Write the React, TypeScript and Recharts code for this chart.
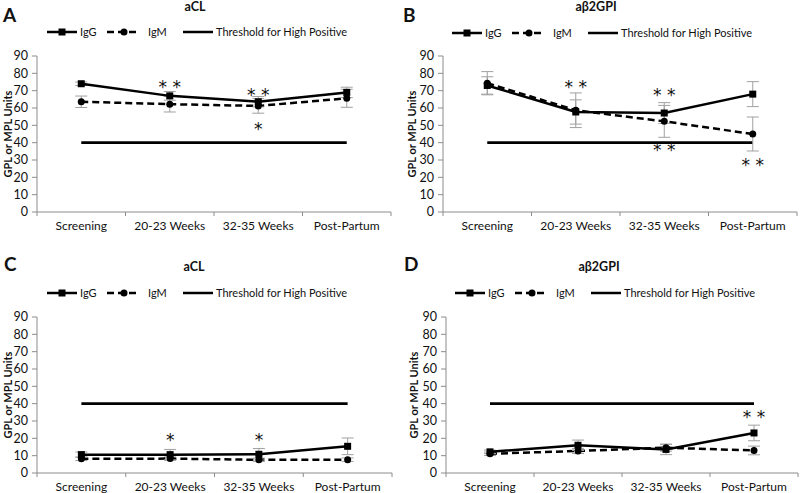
import React from "react";
import { LineChart, Line, XAxis, YAxis, ErrorBar, ReferenceDot } from "recharts";

const weeks = ["Screening", "20-23 Weeks", "32-35 Weeks", "Post-Partum"];
const yTicks = [0, 10, 20, 30, 40, 50, 60, 70, 80, 90];
const threshold = [40, 40, 40, 40];

// A - aCL, high positive group
const aclHighIgG = [74, 67, 63.6, 69];
const aclHighIgGErr = [1, 2.5, 3, 3];
const aclHighIgM = [63.6, 62.2, 61.2, 65.6];
const aclHighIgMErr = [3.3, 4.5, 4.2, 5.2];
const aclHighStars = [
  { week: "20-23 Weeks", y: 72.7, text: "* *" },
  { week: "32-35 Weeks", y: 68, text: "* *" },
  { week: "32-35 Weeks", y: 48.5, text: "*" },
];

// B - aβ2GPI, high positive group
const b2gpiHighIgG = [73, 57.7, 57.1, 68];
const b2gpiHighIgGErr = [5, 7, 6, 7.2];
const b2gpiHighIgM = [74.3, 58.7, 52.3, 45];
const b2gpiHighIgMErr = [6.7, 10, 9.2, 9.8];
const b2gpiHighStars = [
  { week: "20-23 Weeks", y: 72.7, text: "* *" },
  { week: "32-35 Weeks", y: 68, text: "* *" },
  { week: "32-35 Weeks", y: 36.3, text: "* *" },
  { week: "Post-Partum", y: 27.7, text: "* *" },
];

// C - aCL, low group
const aclLowIgG = [10.6, 10.6, 10.8, 15.4];
const aclLowIgGErr = [1.5, 3, 3.3, 4.8];
const aclLowIgM = [8.2, 8.3, 7.6, 7.7];
const aclLowIgMErr = [1, 1, 1, 1];
const aclLowStars = [
  { week: "20-23 Weeks", y: 19.9, text: "*" },
  { week: "32-35 Weeks", y: 19.9, text: "*" },
];

// D - aβ2GPI, low group
const b2gpiLowIgG = [12.2, 16, 13.6, 23.1];
const b2gpiLowIgGErr = [1, 3, 3, 4.5];
const b2gpiLowIgM = [11.1, 12.7, 14.6, 13];
const b2gpiLowIgMErr = [1, 1.5, 2, 2.5];
const b2gpiLowStars = [{ week: "Post-Partum", y: 32.8, text: "* *" }];

const FONT = "Lato, 'Open Sans', sans-serif";
const INK = "#111";
const AXIS = "#8c8c8c";
const ERR = "#a0a0a0";

type Star = { week: string; y: number; text: string };

interface PanelProps {
  letter: string;
  title: string;
  left: number;
  top: number;
  height: number;
  plotTop: number;
  axisH: number;
  yW: number;
  rightM: number;
  labelX: number;
  legendX: number;
  legendY: number;
  titleX: number;
  titleY: number;
  letterX: number;
  letterY: number;
  igg: number[];
  iggErr: number[];
  igm: number[];
  igmErr: number[];
  stars: Star[];
}

const SquareDot = (p: any) => {
  if (p.cx == null || p.cy == null) return <g key={`sq-${p.index}`} />;
  return <rect key={`sq-${p.index}`} x={p.cx - 3.5} y={p.cy - 3.5} width={7} height={7} fill="#000" />;
};

const StarShape = (text: string) => (p: any) => (
  <text x={p.cx} y={p.cy + 7} textAnchor="middle" fontSize={17} fontFamily="'DejaVu Sans', sans-serif" fill={INK}>
    {text}
  </text>
);

const LegendRow = ({ x, y }: { x: number; y: number }) => {
  const txt: React.CSSProperties = {
    position: "absolute",
    top: y - 8,
    height: 16,
    lineHeight: "16px",
    fontSize: 11,
    fontFamily: FONT,
    color: INK,
    whiteSpace: "nowrap",
  };
  return (
    <>
      <svg style={{ position: "absolute", left: x, top: y - 5 }} width={30} height={10}>
        <line x1={0} y1={5} x2={30} y2={5} stroke="#000" strokeWidth={2.5} />
        <rect x={11.5} y={1.5} width={7} height={7} fill="#000" />
      </svg>
      <div style={{ ...txt, left: x + 33 }}>IgG</div>
      <svg style={{ position: "absolute", left: x + 60, top: y - 5 }} width={33} height={10}>
        <line x1={0} y1={5} x2={33} y2={5} stroke="#000" strokeWidth={2.5} strokeDasharray="7 4" />
        <circle cx={17} cy={5} r={3.5} fill="#000" />
      </svg>
      <div style={{ ...txt, left: x + 101 }}>IgM</div>
      <svg style={{ position: "absolute", left: x + 136, top: y - 5 }} width={30} height={10}>
        <line x1={0} y1={5} x2={30} y2={5} stroke="#000" strokeWidth={2.5} />
      </svg>
      <div style={{ ...txt, left: x + 169 }}>Threshold for High Positive</div>
    </>
  );
};

const Panel = (props: PanelProps) => {
  const { igg, iggErr, igm, igmErr, stars, yW, rightM, height, plotTop, axisH } = props;
  const width = 400;
  const plotW = width - yW - rightM;
  const half = plotW / 8;
  const data = weeks.map((week, i) => ({
    week,
    igg: igg[i],
    iggErr: iggErr[i],
    igm: igm[i],
    igmErr: igmErr[i],
    thr: threshold[i],
  }));

  const renderTick = (t: any) => {
    const { x, y, payload, index } = t;
    return (
      <g>
        <line x1={x - half} y1={y} x2={x - half} y2={y + 4} stroke={AXIS} />
        {index === weeks.length - 1 && <line x1={x + half} y1={y} x2={x + half} y2={y + 4} stroke={AXIS} />}
        <text x={x} y={y + 18} textAnchor="middle" fontSize={12} fontFamily={FONT} fill={INK}>
          {payload.value}
        </text>
      </g>
    );
  };

  const renderYLabel = (l: any) => {
    const vb = l.viewBox;
    const cx = props.labelX;
    const cy = vb.y + vb.height / 2;
    return (
      <text
        x={cx}
        y={cy}
        transform={`rotate(-90 ${cx} ${cy})`}
        textAnchor="middle"
        dominantBaseline="central"
        fontSize={11}
        fontWeight="bold"
        fontFamily={FONT}
        fill={INK}
      >
        GPL or MPL Units
      </text>
    );
  };

  return (
    <div style={{ position: "absolute", left: props.left, top: props.top, width, height }}>
      <div
        style={{
          position: "absolute",
          left: props.letterX,
          top: props.letterY - 11,
          lineHeight: "22px",
          fontSize: 19,
          fontWeight: "bold",
          fontFamily: FONT,
          color: INK,
        }}
      >
        {props.letter}
      </div>
      <div
        style={{
          position: "absolute",
          left: props.titleX - 60,
          width: 120,
          textAlign: "center",
          top: props.titleY - 8,
          lineHeight: "16px",
          fontSize: 12.5,
          fontWeight: "bold",
          fontFamily: FONT,
          color: INK,
        }}
      >
        {props.title}
      </div>
      <LegendRow x={props.legendX} y={props.legendY} />
      <LineChart width={width} height={height} data={data} margin={{ top: plotTop, right: rightM, left: 0, bottom: 0 }}>
        <XAxis
          dataKey="week"
          interval={0}
          height={axisH}
          tickLine={false}
          tickSize={0}
          tickMargin={0}
          padding={{ left: half, right: half }}
          axisLine={{ stroke: AXIS }}
          tick={renderTick}
        />
        <YAxis
          domain={[0, 90]}
          ticks={yTicks}
          interval={0}
          width={yW}
          tickSize={5}
          tickMargin={4}
          axisLine={{ stroke: AXIS }}
          tickLine={{ stroke: AXIS }}
          tick={{ fontSize: 12.5, fill: INK, fontFamily: FONT }}
          label={renderYLabel}
        />
        <Line dataKey="thr" stroke="#000" strokeWidth={2.6} dot={false} isAnimationActive={false} />
        <Line
          dataKey="igm"
          stroke="#000"
          strokeWidth={2.5}
          strokeDasharray="7 4"
          dot={{ r: 3.5, fill: "#000", stroke: "#000", strokeWidth: 0 }}
          isAnimationActive={false}
        >
          <ErrorBar dataKey="igmErr" width={6} stroke={ERR} strokeWidth={1} direction="y" />
        </Line>
        <Line dataKey="igg" stroke="#000" strokeWidth={2.5} dot={SquareDot} isAnimationActive={false}>
          <ErrorBar dataKey="iggErr" width={6} stroke={ERR} strokeWidth={1} direction="y" />
        </Line>
        {stars.map((s, i) => (
          <ReferenceDot key={i} x={s.week} y={s.y} r={0} shape={StarShape(s.text)} />
        ))}
      </LineChart>
    </div>
  );
};

export default function App() {
  return (
    <div style={{ position: "absolute", left: 0, top: 0, width: 800, height: 493, background: "#fff" }}>
      <Panel
        letter="A"
        title="aCL"
        left={0}
        top={0}
        height={245}
        plotTop={56}
        axisH={33}
        yW={37}
        rightM={9}
        labelX={7}
        legendX={47}
        legendY={32}
        titleX={195}
        titleY={7}
        letterX={3}
        letterY={15}
        igg={aclHighIgG}
        iggErr={aclHighIgGErr}
        igm={aclHighIgM}
        igmErr={aclHighIgMErr}
        stars={aclHighStars}
      />
      <Panel
        letter="B"
        title="aβ2GPI"
        left={400}
        top={0}
        height={245}
        plotTop={56}
        axisH={33}
        yW={43}
        rightM={3}
        labelX={11}
        legendX={52}
        legendY={33}
        titleX={196}
        titleY={7}
        letterX={3}
        letterY={15}
        igg={b2gpiHighIgG}
        iggErr={b2gpiHighIgGErr}
        igm={b2gpiHighIgM}
        igmErr={b2gpiHighIgMErr}
        stars={b2gpiHighStars}
      />
      <Panel
        letter="C"
        title="aCL"
        left={0}
        top={250}
        height={243}
        plotTop={67}
        axisH={20}
        yW={37}
        rightM={8}
        labelX={7}
        legendX={47}
        legendY={43}
        titleX={194}
        titleY={17}
        letterX={4}
        letterY={14}
        igg={aclLowIgG}
        iggErr={aclLowIgGErr}
        igm={aclLowIgM}
        igmErr={aclLowIgMErr}
        stars={aclLowStars}
      />
      <Panel
        letter="D"
        title="aβ2GPI"
        left={400}
        top={250}
        height={243}
        plotTop={67}
        axisH={20}
        yW={46}
        rightM={2}
        labelX={13}
        legendX={55}
        legendY={43}
        titleX={199}
        titleY={17}
        letterX={4}
        letterY={14}
        igg={b2gpiLowIgG}
        iggErr={b2gpiLowIgGErr}
        igm={b2gpiLowIgM}
        igmErr={b2gpiLowIgMErr}
        stars={b2gpiLowStars}
      />
    </div>
  );
}
